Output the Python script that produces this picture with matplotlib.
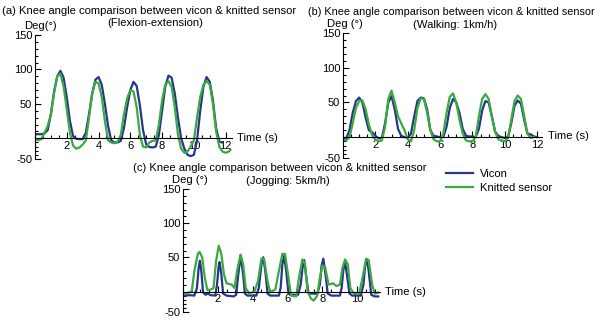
import numpy as np
from matplotlib import pyplot as plt
from matplotlib.ticker import FixedLocator, MultipleLocator, FixedFormatter

plt.rcParams['font.family'] = ['Liberation Sans', 'DejaVu Sans']

# (a) Flexion-extension
t_a = [0.0, 0.2, 0.4, 0.6, 0.8, 1.0, 1.2, 1.4, 1.6, 1.8, 2.0, 2.2, 2.4, 2.6, 2.8, 3.0,
       3.2, 3.4, 3.6, 3.8, 4.0, 4.2, 4.4, 4.6, 4.8, 5.0, 5.2, 5.4, 5.6, 5.8, 6.0, 6.2,
       6.4, 6.6, 6.8, 7.0, 7.2, 7.4, 7.6, 7.8, 8.0, 8.2, 8.4, 8.6, 8.8, 9.0, 9.2, 9.4,
       9.6, 9.8, 10.0, 10.2, 10.4, 10.6, 10.8, 11.0, 11.2, 11.4, 11.6, 11.8]
vicon_a = [6, 6, 6, 7, 12, 35, 68, 90, 98, 88, 60, 25, 3, -1, -2, -2,
           8, 35, 65, 85, 89, 78, 50, 18, -5, -10, -10, -6, 15, 45, 70, 82,
           76, 48, 12, -15, -21, -22, -20, 5, 40, 75, 91, 88, 65, 30, 0, -25,
           -40, -43, -40, -5, 40, 75, 89, 82, 55, 15, -8, -10]
t_a2 = t_a + [12.0, 12.2, 12.3]
knit_a = [0, -5, -2, 8, 18, 35, 65, 90, 94, 75, 42, 8, -18, -25, -22, -15,
          -5, 30, 65, 82, 80, 60, 25, -5, -10, -12, -8, 5, 35, 58, 70, 68,
          45, 5, -20, -22, -10, -6, -5, 20, 55, 78, 83, 75, 45, 5, -25, -35,
          -32, -20, -5, 30, 60, 78, 83, 78, 50, 10, -20, -32, -35, -32, -28]

# (b) Walking 1km/h
t_b = [0.0, 0.2, 0.4, 0.6, 0.8, 1.0, 1.2, 1.4, 1.6, 1.8, 2.0, 2.2, 2.4, 2.6, 2.8, 3.0,
       3.2, 3.4, 3.6, 3.8, 4.0, 4.2, 4.4, 4.6, 4.8, 5.0, 5.2, 5.4, 5.6, 5.8, 6.0, 6.2,
       6.4, 6.6, 6.8, 7.0, 7.2, 7.4, 7.6, 7.8, 8.0, 8.2, 8.4, 8.6, 8.8, 9.0, 9.2, 9.4,
       9.6, 9.8, 10.0, 10.2, 10.4, 10.6, 10.8, 11.0, 11.2, 11.4, 11.6, 11.8, 12.0]
vicon_b = [-2, -3, 10, 35, 52, 57, 50, 28, 10, 7, 2, -3, -2, 20, 50, 59,
           40, 12, 2, 0, -1, 5, 30, 52, 57, 56, 40, 10, 2, 1, 0, 0,
           15, 42, 55, 50, 35, 12, 2, 1, 1, 0, 12, 38, 52, 50, 30, 8,
           2, 0, -2, 0, 20, 45, 53, 48, 25, 5, 4, 1, 0]
knit_b = [-5, -8, 0, 20, 42, 52, 53, 40, 18, 3, -6, -10, -8, 15, 55, 67,
          50, 30, 20, 10, -5, -10, 10, 42, 56, 55, 35, 10, -5, -10, -10, 5,
          35, 58, 63, 50, 25, 5, -8, -10, -10, 0, 30, 55, 62, 55, 30, 8,
          -5, -8, -10, -2, 25, 52, 60, 55, 30, 5, -2, 0]

# (c) Jogging 5km/h
t_c_vicon = [0.0, 0.4, 0.65, 0.8, 0.9, 0.97, 1.05, 1.15, 1.3, 1.4, 1.6, 1.85, 1.95, 2.05,
             2.1, 2.2, 2.3, 2.5, 2.9, 3.05, 3.15, 3.3, 3.45, 3.55, 3.7, 4.2, 4.35, 4.5,
             4.6, 4.72, 4.85, 5.0, 5.5, 5.6, 5.7, 5.8, 5.92, 6.05, 6.2, 6.6, 6.75, 6.88,
             6.95, 7.05, 7.2, 7.4, 7.7, 7.85, 7.95, 8.05, 8.15, 8.3, 8.5, 9.0, 9.1, 9.2,
             9.3, 9.4, 9.55, 9.7, 10.2, 10.35, 10.45, 10.55, 10.65, 10.8, 11.0, 11.2]
vicon_c = [-10, -9, -10, 5, 35, 45, 30, -2, -8, -5, -9, -10, 10, 38,
           43, 25, -5, -10, -12, -8, 20, 53, 25, -5, -10, -10, 5, 40,
           50, 30, -5, -10, -10, 5, 40, 52, 30, -5, -8, -8, 10, 40,
           46, 25, -5, -5, -6, 10, 38, 48, 30, -5, -10, -10, 5, 32,
           42, 25, -5, -10, -10, 10, 38, 47, 30, -8, -12, -12]
t_c_knit = [0.0, 0.3, 0.5, 0.65, 0.85, 0.95, 1.1, 1.25, 1.4, 1.6, 1.75, 1.9, 2.05, 2.2,
            2.35, 2.5, 2.8, 2.95, 3.1, 3.3, 3.45, 3.6, 3.8, 4.1, 4.3, 4.5, 4.65, 4.85,
            5.0, 5.3, 5.5, 5.7, 5.85, 6.05, 6.2, 6.5, 6.65, 6.85, 7.0, 7.15, 7.35, 7.5,
            7.7, 7.85, 8.0, 8.15, 8.35, 8.6, 8.8, 9.0, 9.15, 9.3, 9.45, 9.6, 9.8, 10.1,
            10.3, 10.5, 10.65, 10.85, 11.0, 11.2]
knit_c = [-5, -3, 0, 30, 55, 58, 50, 20, 2, 3, 5, 45, 67, 55,
          25, 12, 10, 5, 30, 54, 40, 5, -5, 0, 15, 48, 48, 15,
          -2, 3, 30, 55, 55, 20, -10, -12, 20, 47, 40, 0, -18, -22,
          -10, 20, 38, 36, 10, 12, 8, 10, 35, 47, 40, 5, -5, -5,
          20, 48, 46, 10, -5, -3]

blue = '#26368f'
green = '#3aaa3c'
W, H = 600, 320


# below zero the reference axis is squeezed
def fwd(y):
    y = np.asarray(y, dtype=float)
    return np.where(y < 0, y * 0.6, y)


def inv(y):
    y = np.asarray(y, dtype=float)
    return np.where(y < 0, y / 0.6, y)


def make_axes(fig, left, right, top, bottom, xmax, xticks):
    ax = fig.add_axes([left / W, 1 - bottom / H, (right - left) / W, (bottom - top) / H])
    ax.set_yscale('function', functions=(fwd, inv))
    ax.set_xlim(0, xmax)
    ax.set_ylim(-50, 150)
    ax.spines['top'].set_visible(False)
    ax.spines['right'].set_visible(False)
    ax.spines['bottom'].set_position(('data', 0))
    ax.spines['left'].set_position(('data', 0))
    ax.yaxis.set_major_locator(FixedLocator([-50, 50, 100, 150]))
    ax.yaxis.set_major_formatter(FixedFormatter(['-50', '50', '100', '150']))
    ax.yaxis.set_minor_locator(FixedLocator([v for v in range(-40, 150, 10) if v % 50 != 0]))
    ax.xaxis.set_major_locator(FixedLocator(xticks))
    ax.xaxis.set_major_formatter(FixedFormatter([str(x) for x in xticks]))
    ax.xaxis.set_minor_locator(MultipleLocator(0.5))
    ax.tick_params(which='both', direction='in', labelsize=8, width=0.8, pad=2)
    ax.tick_params(which='major', length=4)
    ax.tick_params(which='minor', length=2)
    ax.patch.set_alpha(0)
    return ax


def px(x, y):
    return x / W, 1 - y / H


fig = plt.figure(figsize=(6, 3.2), dpi=100)

ax_a = make_axes(fig, 35, 232, 35, 159, 12.4, [2, 4, 6, 8, 10, 12])
ax_a.plot(t_a, vicon_a, color=blue, lw=1.6)
ax_a.plot(t_a2, knit_a, color=green, lw=1.6)

ax_b = make_axes(fig, 343, 542, 33, 158, 12.3, [2, 4, 6, 8, 10, 12])
ax_b.plot(t_b, vicon_b, color=blue, lw=1.6)
ax_b.plot(t_b[:-1], knit_b, color=green, lw=1.6)

ax_c = make_axes(fig, 183, 380, 189, 312, 11.3, [2, 4, 6, 8, 10])
l1, = ax_c.plot(t_c_vicon, vicon_c, color=blue, lw=1.6, label='Vicon')
l2, = ax_c.plot(t_c_knit, knit_c, color=green, lw=1.6, label='Knitted sensor')

fs = 8.1
fig.text(*px(2, 11), '(a) Knee angle comparison between vicon & knitted sensor',
         fontsize=fs, ha='left', va='center')
fig.text(*px(155, 23), '(Flexion-extension)', fontsize=fs, ha='center', va='center')
fig.text(*px(40, 26), 'Deg(°)', fontsize=fs, ha='center', va='center')
fig.text(*px(237, 138), 'Time (s)', fontsize=fs, ha='left', va='center')

fig.text(*px(308, 12), '(b) Knee angle comparison between vicon & knitted sensor',
         fontsize=7.8, ha='left', va='center')
fig.text(*px(455, 25), '(Walking: 1km/h)', fontsize=fs, ha='center', va='center')
fig.text(*px(345, 24), 'Deg (°)', fontsize=fs, ha='center', va='center')
fig.text(*px(548, 136), 'Time (s)', fontsize=fs, ha='left', va='center')

fig.text(*px(133, 168), '(c) Knee angle comparison between vicon & knitted sensor',
         fontsize=fs, ha='left', va='center')
fig.text(*px(288, 181), '(Jogging: 5km/h)', fontsize=fs, ha='center', va='center')
fig.text(*px(190, 180), 'Deg (°)', fontsize=fs, ha='center', va='center')
fig.text(*px(385, 292), 'Time (s)', fontsize=fs, ha='left', va='center')

fig.legend(handles=[l1, l2], loc='upper left', bbox_to_anchor=px(436, 159),
           frameon=False, fontsize=fs, handlelength=2.4, handletextpad=0.6,
           labelspacing=0.35)

fig.savefig('out.png', dpi=100)
